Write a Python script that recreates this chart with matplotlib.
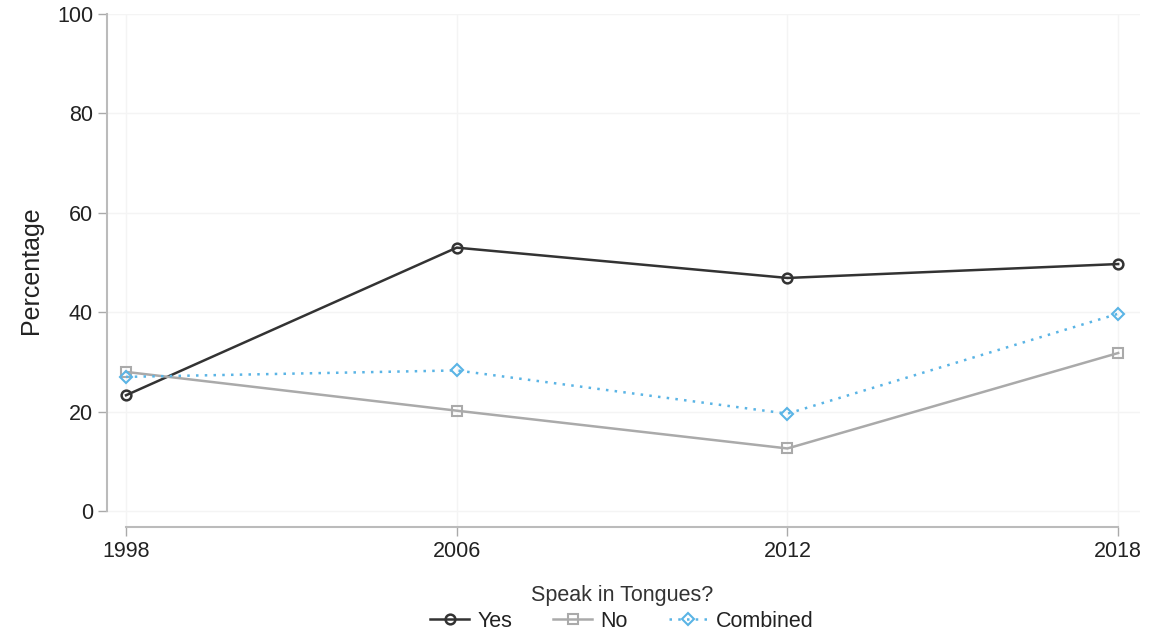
import matplotlib.pyplot as plt

plt.rcParams['font.family'] = ['Liberation Sans', 'DejaVu Sans']

# Data
years = ['1998', '2006', '2012', '2018']
yes = [23.3, 53.0, 46.9, 49.7]
no = [28.0, 20.2, 12.6, 31.8]
combined = [27.0, 28.3, 19.6, 39.7]

fig = plt.figure(figsize=(11.52, 6.35), dpi=100)
ax = fig.add_axes([107 / 1152, 1 - 527 / 635, (1140 - 107) / 1152, (527 - 14) / 635])

x = list(range(len(years)))
ax.plot(x, yes, color='#333333', lw=1.8, marker='o', ms=7, mfc='none', mew=1.8, label='Yes')
ax.plot(x, no, color='#aaaaaa', lw=1.8, marker='s', ms=7, mfc='none', mew=1.5, label='No')
ax.plot(x, combined, color='#5ab4e5', lw=1.8, ls=(0, (1, 2.5)), marker='D', ms=6,
        mfc='none', mew=1.5, label='Combined')

ax.set_xlim(-0.0575, 3.066)
ax.set_ylim(-3.2, 100)
ax.set_xticks(x)
ax.set_xticklabels(years)
ax.set_yticks([0, 20, 40, 60, 80, 100])
ax.tick_params(labelsize=15.5, color='#aaaaaa', length=6.5, width=1, labelcolor='#222222')

for s in ['top', 'right']:
    ax.spines[s].set_visible(False)
ax.spines['left'].set_bounds(0, 100)
ax.spines['bottom'].set_bounds(0, 3)
ax.spines['left'].set_color('#bbbbbb')
ax.spines['bottom'].set_color('#bbbbbb')
ax.spines['left'].set_linewidth(1.5)
ax.spines['bottom'].set_linewidth(1.5)

ax.grid(True, color='#f4f4f4', lw=1)
ax.set_axisbelow(True)

ax.set_ylabel('Percentage', fontsize=18, labelpad=10, color='#222222')

leg = fig.legend(*ax.get_legend_handles_labels(), title='Speak in Tongues?',
                 loc='lower center', bbox_to_anchor=(0.54, -0.022),
                 ncol=3, frameon=False, fontsize=15.5, title_fontsize=15.5,
                 handlelength=1.8, handletextpad=0.4, columnspacing=1.9,
                 labelspacing=0.2, borderpad=0.3, labelcolor='#222222')
leg.get_title().set_color('#333333')

fig.savefig('out.png', dpi=100)
